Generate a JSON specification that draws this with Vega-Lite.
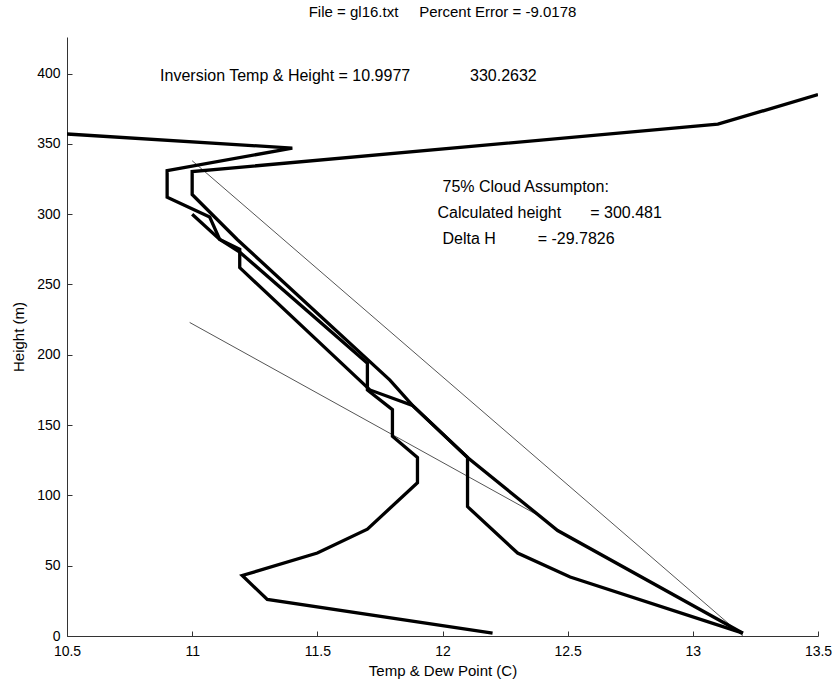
{
  "$schema": "https://vega.github.io/schema/vega-lite/v6.json",
  "width": 751,
  "height": 599,
  "autosize": {"type": "none"},
  "padding": {"left": 67, "top": 37, "right": 19, "bottom": 48},
  "background": "white",
  "title": {"text": "File = gl16.txt\u00a0\u00a0\u00a0\u00a0\u00a0Percent Error = -9.0178", "font": "Liberation Sans", "fontSize": 15, "fontWeight": "normal", "color": "black", "offset": 17},
  "config": {
    "view": {"stroke": null},
    "axis": {"labelFont": "Liberation Sans", "titleFont": "Liberation Sans", "labelFontSize": 14, "titleFontSize": 15, "titleFontWeight": "normal", "labelColor": "black", "titleColor": "black", "domainColor": "#333", "tickColor": "#333", "grid": false, "ticks": true, "tickWidth": 1, "tickSize": -5, "labelFlush": false, "labelOverlap": false}
  },
  "datasets": {
    "thick": [
      {"s": "X", "i": 1, "T": 10.5, "H": 357},
      {"s": "X", "i": 2, "T": 11.4, "H": 347},
      {"s": "X", "i": 3, "T": 10.9, "H": 331},
      {"s": "X", "i": 4, "T": 10.9, "H": 312},
      {"s": "X", "i": 5, "T": 11.07, "H": 298},
      {"s": "X", "i": 6, "T": 11.11, "H": 282},
      {"s": "X", "i": 7, "T": 11.19, "H": 273},
      {"s": "X", "i": 8, "T": 11.7, "H": 194},
      {"s": "X", "i": 9, "T": 11.7, "H": 175},
      {"s": "X", "i": 10, "T": 11.8, "H": 161},
      {"s": "X", "i": 11, "T": 11.8, "H": 142},
      {"s": "X", "i": 12, "T": 11.9, "H": 127},
      {"s": "X", "i": 13, "T": 11.9, "H": 109},
      {"s": "X", "i": 14, "T": 11.7, "H": 76},
      {"s": "X", "i": 15, "T": 11.5, "H": 59},
      {"s": "X", "i": 16, "T": 11.2, "H": 43},
      {"s": "X", "i": 17, "T": 11.3, "H": 26},
      {"s": "X", "i": 18, "T": 12.2, "H": 2},
      {"s": "Y", "i": 1, "T": 13.5, "H": 385},
      {"s": "Y", "i": 2, "T": 13.1, "H": 364},
      {"s": "Y", "i": 3, "T": 11.0, "H": 330.3},
      {"s": "Y", "i": 4, "T": 11.0, "H": 314},
      {"s": "Y", "i": 5, "T": 11.09, "H": 298},
      {"s": "Y", "i": 6, "T": 11.18, "H": 282},
      {"s": "Y", "i": 7, "T": 11.79, "H": 182},
      {"s": "Y", "i": 8, "T": 11.88, "H": 164},
      {"s": "Y", "i": 9, "T": 12.1, "H": 127},
      {"s": "Y", "i": 10, "T": 12.46, "H": 75},
      {"s": "Y", "i": 11, "T": 13.2, "H": 2},
      {"s": "Z", "i": 1, "T": 11.0, "H": 300},
      {"s": "Z", "i": 2, "T": 11.11, "H": 282},
      {"s": "Z", "i": 3, "T": 11.19, "H": 275},
      {"s": "Z", "i": 4, "T": 11.19, "H": 262},
      {"s": "Z", "i": 5, "T": 11.71, "H": 175},
      {"s": "Z", "i": 6, "T": 11.88, "H": 164},
      {"s": "Z", "i": 7, "T": 12.1, "H": 127},
      {"s": "Z", "i": 8, "T": 12.1, "H": 92},
      {"s": "Z", "i": 9, "T": 12.3, "H": 59},
      {"s": "Z", "i": 10, "T": 12.51, "H": 42},
      {"s": "Z", "i": 11, "T": 13.2, "H": 2}
    ],
    "thin": [
      {"s": "moist", "i": 1, "T": 11.0, "H": 338},
      {"s": "moist", "i": 2, "T": 13.2, "H": 0},
      {"s": "dry", "i": 1, "T": 10.99, "H": 223},
      {"s": "dry", "i": 2, "T": 12.38, "H": 86}
    ],
    "notes": [
      {"T": 10.872, "H": 398, "label": "Inversion Temp & Height = 10.9977"},
      {"T": 12.11, "H": 398, "label": "330.2632"},
      {"T": 12.0, "H": 319.5, "label": "75% Cloud Assumpton:"},
      {"T": 11.98, "H": 301, "label": "Calculated height"},
      {"T": 12.59, "H": 301, "label": "= 300.481"},
      {"T": 12.0, "H": 282, "label": "Delta H"},
      {"T": 12.38, "H": 282, "label": "= -29.7826"}
    ]
  },
  "encoding": {
    "x": {"field": "T", "type": "quantitative", "scale": {"domain": [10.5, 13.5], "nice": false, "zero": false},
      "axis": {"title": "Temp & Dew Point (C)", "values": [10.5, 11, 11.5, 12, 12.5, 13, 13.5], "format": "~g", "labelPadding": 13, "titlePadding": 5}},
    "y": {"field": "H", "type": "quantitative", "scale": {"domain": [0, 426], "nice": false, "zero": false},
      "axis": {"title": "Height (m)", "values": [0, 50, 100, 150, 200, 250, 300, 350, 400], "format": "d", "labelPadding": 12, "titlePadding": 10}}
  },
  "layer": [
    {
      "data": {"name": "thin"},
      "mark": {"type": "line", "color": "#555", "strokeWidth": 1, "clip": true},
      "encoding": {"detail": {"field": "s"}, "order": {"field": "i", "type": "quantitative"}}
    },
    {
      "data": {"name": "thick"},
      "mark": {"type": "line", "color": "black", "strokeWidth": 3.3, "strokeJoin": "miter", "clip": true},
      "encoding": {"detail": {"field": "s"}, "order": {"field": "i", "type": "quantitative"}}
    },
    {
      "data": {"name": "notes"},
      "mark": {"type": "text", "align": "left", "baseline": "middle", "font": "Liberation Sans", "fontSize": 16, "color": "black"},
      "encoding": {"text": {"field": "label"}}
    }
  ]
}
